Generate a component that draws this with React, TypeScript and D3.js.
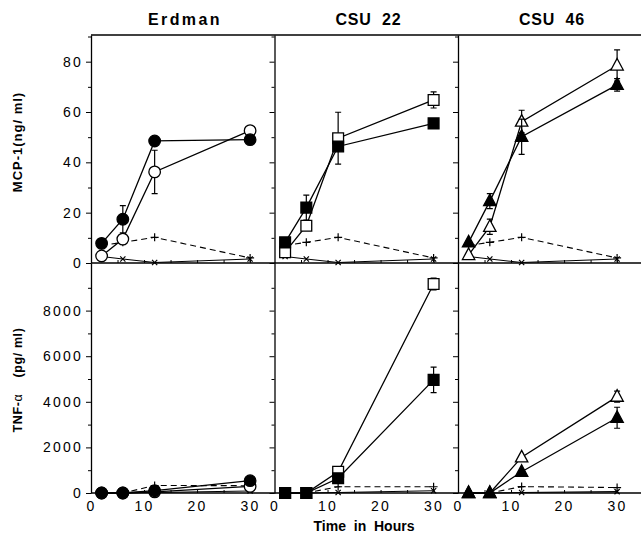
import React, { useEffect, useRef } from "react";
import * as d3 from "d3";

const W = 641;
const H = 535;

const times = [2, 6, 12, 30];
const strains = ["Erdman", "CSU  22", "CSU  46"];
const shapes = ["circle", "square", "triangle"];

const xTicks = [0, 10, 20, 30];
const xMinor = [5, 15, 25];
const mcpTicks = [0, 20, 40, 60, 80];
const mcpMinor = [10, 30, 50, 70, 90];
const tnfTicks = [0, 2000, 4000, 6000, 8000];
const tnfMinor = [1000, 3000, 5000, 7000, 9000];

// MCP-1 (ng/ml), filled = one group, open = other group
const erdmanMcpFilled = [7.8, 17.4, 48.5, 49.0];
const erdmanMcpFilledErr = [0, 5.4, 1.2, 1.2];
const erdmanMcpOpen = [2.8, 9.5, 36.2, 52.6];
const erdmanMcpOpenErr = [0, 0, 8.6, 0];
const csu22McpFilled = [8.2, 22.0, 46.3, 55.5];
const csu22McpFilledErr = [0, 5.0, 0, 0];
const csu22McpOpen = [4.3, 14.8, 49.6, 64.8];
const csu22McpOpenErr = [0, 0, 10.3, 3.2];
const csu46McpFilled = [8.2, 24.6, 50.2, 70.8];
const csu46McpFilledErr = [0, 3.0, 7.0, 2.5];
const csu46McpOpen = [3.2, 14.4, 56.2, 78.5];
const csu46McpOpenErr = [0, 3.0, 4.5, 6.2];
const mcpCtrlDash = [7.0, 8.2, 10.2, 2.0];
const mcpCtrlSolid = [2.6, 1.6, 0.2, 1.6];

// TNF-alpha (pg/ml)
const erdmanTnfFilled = [0, 0, 100, 540];
const erdmanTnfFilledErr = [0, 0, 0, 0];
const erdmanTnfOpen = [0, 0, 50, 290];
const erdmanTnfOpenErr = [0, 0, 0, 0];
const csu22TnfFilled = [0, 0, 645, 4960];
const csu22TnfFilledErr = [0, 0, 0, 560];
const csu22TnfOpen = [0, 0, 935, 9170];
const csu22TnfOpenErr = [0, 0, 0, 260];
const csu46TnfFilled = [0, 0, 935, 3300];
const csu46TnfFilledErr = [0, 0, 0, 460];
const csu46TnfOpen = [0, 0, 1565, 4225];
const csu46TnfOpenErr = [0, 0, 0, 240];
const erdmanTnfCtrlDash = [0, 0, 330, 320];
const erdmanTnfCtrlSolid = [0, 0, 20, 90];
const csu22TnfCtrlDash = [0, 0, 275, 275];
const csu22TnfCtrlSolid = [0, 0, 20, 100];
const csu46TnfCtrlDash = [0, 0, 280, 240];
const csu46TnfCtrlSolid = [0, 0, 20, 60];

const mcpRows = [
  { filled: erdmanMcpFilled, filledErr: erdmanMcpFilledErr, open: erdmanMcpOpen, openErr: erdmanMcpOpenErr, dash: mcpCtrlDash, solid: mcpCtrlSolid },
  { filled: csu22McpFilled, filledErr: csu22McpFilledErr, open: csu22McpOpen, openErr: csu22McpOpenErr, dash: mcpCtrlDash, solid: mcpCtrlSolid },
  { filled: csu46McpFilled, filledErr: csu46McpFilledErr, open: csu46McpOpen, openErr: csu46McpOpenErr, dash: mcpCtrlDash, solid: mcpCtrlSolid },
];
const tnfRows = [
  { filled: erdmanTnfFilled, filledErr: erdmanTnfFilledErr, open: erdmanTnfOpen, openErr: erdmanTnfOpenErr, dash: erdmanTnfCtrlDash, solid: erdmanTnfCtrlSolid },
  { filled: csu22TnfFilled, filledErr: csu22TnfFilledErr, open: csu22TnfOpen, openErr: csu22TnfOpenErr, dash: csu22TnfCtrlDash, solid: csu22TnfCtrlSolid },
  { filled: csu46TnfFilled, filledErr: csu46TnfFilledErr, open: csu46TnfOpen, openErr: csu46TnfOpenErr, dash: csu46TnfCtrlDash, solid: csu46TnfCtrlSolid },
];

const FONT = "'Liberation Sans', Arial, Helvetica, sans-serif";
const panelLeft = [91, 274.5, 458];
const panelW = 183.5;
const top = 35;
const mid = 263;
const bottom = 493;

function markerPath(shape: string): string {
  if (shape === "circle") return d3.symbol(d3.symbolCircle, 105)()!;
  if (shape === "square") return "M-5.4,-5.4H5.4V5.4H-5.4Z";
  return "M0,-7L6.2,4.6H-6.2Z";
}

function App() {
  const svgRef = useRef<SVGSVGElement>(null);

  useEffect(() => {
    const svg = d3.select(svgRef.current);
    svg.selectAll("*").remove();
    svg.attr("width", W).attr("height", H);

    const yMcp = d3.scaleLinear().domain([0, 90.6]).range([mid, top]);
    const yTnf = d3.scaleLinear().domain([0, 10088]).range([bottom, mid]);

    // frame lines
    const frame = svg.append("g").attr("stroke", "black").attr("stroke-width", 1.3);
    frame.append("line").attr("x1", panelLeft[0]).attr("x2", W).attr("y1", top).attr("y2", top);
    frame.append("line").attr("x1", panelLeft[0]).attr("x2", W).attr("y1", mid).attr("y2", mid);
    frame.append("line").attr("x1", panelLeft[0]).attr("x2", W).attr("y1", bottom).attr("y2", bottom);

    strains.forEach((name, i) => {
      const x = d3.scaleLinear().domain([0, 34.6]).range([panelLeft[i], panelLeft[i] + panelW]);

      svg.append("text")
        .attr("x", panelLeft[i] + 94).attr("y", 25)
        .attr("text-anchor", "middle")
        .attr("font-family", FONT).attr("font-weight", "bold").attr("font-size", 16)
        .attr("letter-spacing", i === 0 ? 2.4 : 0.8)
        .style("white-space", "pre")
        .text(name);

      // y axes
      [
        { y: yMcp, major: mcpTicks, minor: mcpMinor },
        { y: yTnf, major: tnfTicks, minor: tnfMinor },
      ].forEach(({ y, major, minor }) => {
        const gMaj = svg.append("g").attr("transform", `translate(${panelLeft[i]},0)`)
          .call(d3.axisLeft(y).tickValues(major).tickSize(5).tickSizeOuter(0).tickPadding(3)
            .tickFormat(i === 0 ? (d3.format("d") as any) : () => ""));
        gMaj.select(".domain").attr("stroke-width", 1.3);
        gMaj.selectAll("text").attr("font-family", FONT).attr("font-size", 14).attr("letter-spacing", 2.2).attr("fill", "black");
        const gMin = svg.append("g").attr("transform", `translate(${panelLeft[i]},0)`)
          .call(d3.axisLeft(y).tickValues(minor).tickSize(3).tickFormat(() => ""));
        gMin.select(".domain").remove();
      });

      // x axes: ticks point up
      [mid, bottom].forEach((yPos) => {
        const g = svg.append("g").attr("transform", `translate(0,${yPos})`)
          .call(d3.axisBottom(x).tickValues([...xMinor, ...xTicks.slice(1)]).tickSize(-3).tickSizeOuter(0)
            .tickFormat(() => ""));
        g.select(".domain").remove();
      });
      const gl = svg.append("g").attr("transform", `translate(0,${bottom})`)
        .call(d3.axisBottom(x).tickValues(xTicks).tickSize(0).tickPadding(8).tickFormat(d3.format("d") as any));
      gl.select(".domain").remove();
      gl.selectAll("text").attr("font-family", FONT).attr("font-size", 14).attr("letter-spacing", 2.2).attr("fill", "black");

      // data
      [
        { y: yMcp, row: mcpRows[i] },
        { y: yTnf, row: tnfRows[i] },
      ].forEach(({ y, row }) => {
        const line = d3.line<number>().x((_, k) => x(times[k])).y((d) => y(d));
        const g = svg.append("g");

        g.append("path").datum(row.solid).attr("d", line).attr("fill", "none").attr("stroke", "black").attr("stroke-width", 1.1);
        g.append("path").datum(row.dash).attr("d", line).attr("fill", "none").attr("stroke", "black").attr("stroke-width", 1.1).attr("stroke-dasharray", "6,4");
        g.selectAll(".xm").data(row.solid).enter().append("path")
          .attr("transform", (d, k) => `translate(${x(times[k])},${y(d)})`)
          .attr("d", "M-2.6,-2.6L2.6,2.6M-2.6,2.6L2.6,-2.6").attr("stroke", "black").attr("stroke-width", 1.2);
        g.selectAll(".pm").data(row.dash).enter().append("path")
          .attr("transform", (d, k) => `translate(${x(times[k])},${y(d)})`)
          .attr("d", "M-4,0H4M0,-4V4").attr("stroke", "black").attr("stroke-width", 1.2);

        g.append("path").datum(row.open).attr("d", line).attr("fill", "none").attr("stroke", "black").attr("stroke-width", 1.3);
        g.append("path").datum(row.filled).attr("d", line).attr("fill", "none").attr("stroke", "black").attr("stroke-width", 1.3);

        [
          { vals: row.open, errs: row.openErr, fill: "white" },
          { vals: row.filled, errs: row.filledErr, fill: "black" },
        ].forEach(({ vals, errs, fill }) => {
          vals.forEach((v, k) => {
            const e = errs[k];
            if (e <= 0) return;
            const cx = x(times[k]);
            g.append("path")
              .attr("d", `M${cx},${y(v - e)}V${y(v + e)}M${cx - 3},${y(v + e)}H${cx + 3}M${cx - 3},${y(v - e)}H${cx + 3}`)
              .attr("stroke", "black").attr("stroke-width", 1.2).attr("fill", "none");
          });
          g.selectAll(null).data(vals).enter().append("path")
            .attr("transform", (d, k) => `translate(${x(times[k])},${y(d)})`)
            .attr("d", markerPath(shapes[i]))
            .attr("fill", fill).attr("stroke", "black").attr("stroke-width", 1.3);
        });
      });
    });

    // axis titles
    svg.append("text")
      .attr("transform", "translate(22,142) rotate(-90)")
      .attr("text-anchor", "middle")
      .attr("font-family", FONT).attr("font-weight", "bold").attr("font-size", 13)
      .attr("letter-spacing", 1)
      .text("MCP-1(ng/ ml)");
    const tnf = svg.append("text")
      .attr("transform", "translate(22,380) rotate(-90)")
      .attr("text-anchor", "middle")
      .attr("font-family", FONT).attr("font-weight", "bold").attr("font-size", 12.5)
      .attr("letter-spacing", 0.6)
      .style("white-space", "pre");
    tnf.append("tspan").text("TNF-");
    tnf.append("tspan").attr("font-weight", "normal").text("α");
    tnf.append("tspan").text("    (pg/ ml)");

    svg.append("text")
      .attr("x", 364).attr("y", 531)
      .attr("text-anchor", "middle")
      .attr("font-family", FONT).attr("font-weight", "bold").attr("font-size", 14)
      .style("white-space", "pre")
      .text("Time  in  Hours");
  }, []);

  return <svg ref={svgRef} style={{ position: "absolute", left: 0, top: 0 }} />;
}

export default App;
